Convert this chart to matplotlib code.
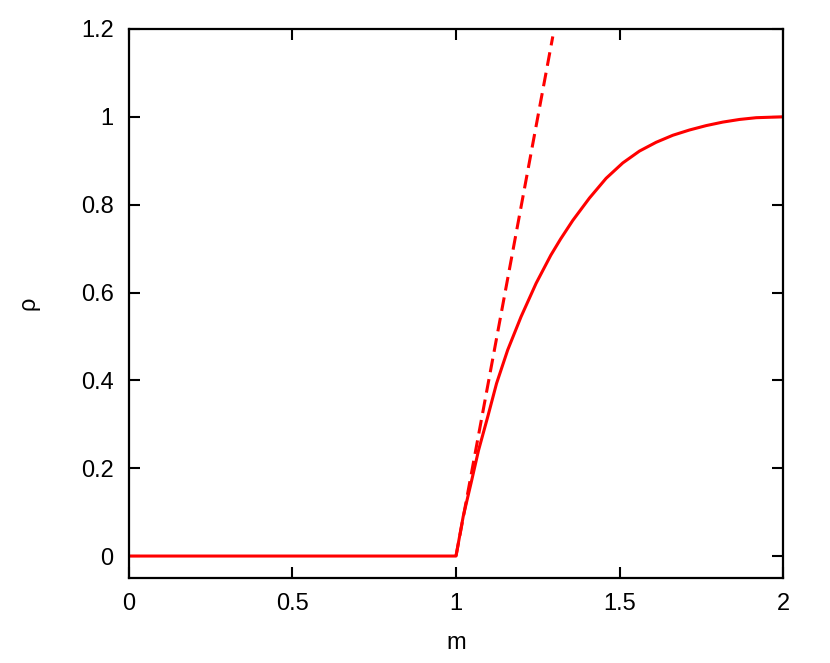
import matplotlib.pyplot as plt

# solid curve rho(m)
m_curve = [0.0, 1.0, 1.022, 1.046, 1.069, 1.097, 1.124, 1.158, 1.199, 1.245,
           1.29, 1.32, 1.357, 1.408, 1.459, 1.51, 1.561, 1.612, 1.663, 1.714,
           1.765, 1.816, 1.867, 1.918, 2.0]
rho_curve = [0.0, 0.0, 0.090, 0.166, 0.241, 0.317, 0.393, 0.469, 0.545, 0.621,
             0.685, 0.722, 0.764, 0.815, 0.860, 0.895, 0.922, 0.942, 0.958,
             0.970, 0.980, 0.988, 0.994, 0.998, 1.0]

# dashed tangent line at the onset
m_dash = [1.0, 1.296]
rho_dash = [0.0, 1.183]

x_ticks = [0, 0.5, 1, 1.5, 2]
x_labels = ["0", "0.5", "1", "1.5", "2"]
y_ticks = [0, 0.2, 0.4, 0.6, 0.8, 1.0, 1.2]
y_labels = ["0", "0.2", "0.4", "0.6", "0.8", "1", "1.2"]

plt.rcParams["font.family"] = ["Liberation Sans", "DejaVu Sans"]

fig = plt.figure(figsize=(8.3, 6.63), dpi=100)
ax = fig.add_axes([0.1554, 0.1282, 0.788, 0.8281])

ax.plot(m_curve, rho_curve, color="red", lw=2.2)
ax.plot(m_dash, rho_dash, color="red", lw=2.2, ls=(0, (4.5, 2.3)))

ax.set_xlim(0, 2)
ax.set_ylim(-0.05, 1.2)
ax.set_xticks(x_ticks)
ax.set_xticklabels(x_labels)
ax.set_yticks(y_ticks)
ax.set_yticklabels(y_labels)
ax.tick_params(direction="in", length=8, width=1.5, labelsize=17,
               top=True, right=True, pad=11)
for s in ax.spines.values():
    s.set_linewidth(1.6)

ax.set_xlabel("m", fontsize=17, labelpad=12)
ax.set_ylabel("ρ", fontsize=17, labelpad=30)

fig.savefig("out.png", dpi=100)
